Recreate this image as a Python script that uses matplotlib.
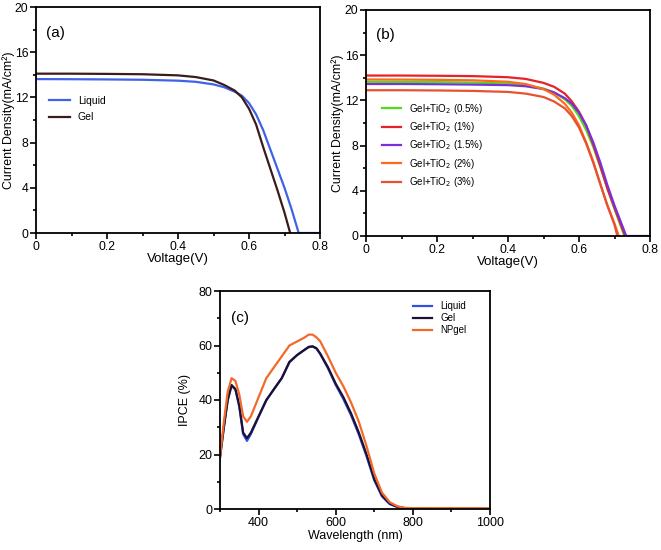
import matplotlib
matplotlib.use("Agg")
import matplotlib.pyplot as plt
from matplotlib.ticker import MultipleLocator

plt.rcParams['font.family'] = ['Liberation Sans', 'DejaVu Sans']

# ---------------- Panel (a) data ----------------
v_liquid = [0, 0.1, 0.2, 0.3, 0.4, 0.45, 0.5, 0.53, 0.56, 0.58, 0.60, 0.62, 0.64, 0.66, 0.68, 0.70, 0.72, 0.74]
j_liquid = [13.62, 13.61, 13.59, 13.56, 13.48, 13.38, 13.15, 12.9, 12.5, 12.15, 11.5, 10.5, 9.1, 7.4, 5.7, 4.0, 2.1, 0.0]
v_gel = [0, 0.1, 0.2, 0.3, 0.4, 0.45, 0.5, 0.53, 0.56, 0.58, 0.60, 0.62, 0.64, 0.66, 0.68, 0.70, 0.716]
j_gel = [14.1, 14.1, 14.08, 14.05, 13.95, 13.8, 13.5, 13.1, 12.6, 12.0, 11.0, 9.6, 7.6, 5.7, 3.8, 1.8, 0.0]

# ---------------- Panel (b) data ----------------
v_b = [0, 0.1, 0.2, 0.3, 0.4, 0.45, 0.5, 0.53, 0.56, 0.58, 0.60, 0.62, 0.64, 0.66, 0.68, 0.70]
j_05 = [13.65, 13.64, 13.62, 13.58, 13.5, 13.35, 13.05, 12.7, 12.1, 11.5, 10.6, 9.4, 7.9, 6.1, 4.2, 2.4]
voc_05 = 0.728
j_1 = [14.2, 14.2, 14.18, 14.15, 14.05, 13.9, 13.55, 13.2, 12.6, 11.9, 11.0, 9.8, 8.1, 6.2, 4.2, 2.5]
voc_1 = 0.730
j_15 = [13.45, 13.45, 13.43, 13.4, 13.35, 13.25, 13.0, 12.7, 12.2, 11.7, 10.9, 9.8, 8.3, 6.5, 4.5, 2.7]
voc_15 = 0.733
j_2 = [13.85, 13.84, 13.82, 13.78, 13.65, 13.45, 13.0, 12.5, 11.7, 10.9, 9.8, 8.3, 6.6, 4.6, 2.7, 1.1]
voc_2 = 0.712
j_3 = [12.9, 12.9, 12.88, 12.84, 12.75, 12.6, 12.3, 11.9, 11.3, 10.6, 9.6, 8.2, 6.5, 4.6, 2.7, 1.0]
voc_3 = 0.708
labels_b = ['Gel+TiO$_2$ (0.5%)', 'Gel+TiO$_2$ (1%)', 'Gel+TiO$_2$ (1.5%)',
            'Gel+TiO$_2$ (2%)', 'Gel+TiO$_2$ (3%)']

# ---------------- Panel (c) data ----------------
wl = [300, 310, 320, 330, 340, 350, 360, 370, 380, 400, 420, 440, 460, 480, 500, 520, 530, 540,
      550, 560, 580, 600, 620, 640, 660, 680, 700, 720, 740, 760, 780, 800, 850, 900, 950, 1000]
ipce_liquid = [19, 30, 40, 45.2, 43.8, 37.5, 27.5, 25.0, 27.5, 33.8, 39.8, 44.0, 48.0, 53.8, 56.5, 58.5, 59.4, 59.6,
               58.9, 56.8, 51.6, 45.5, 40.3, 34.3, 27.3, 19.3, 10.5, 4.6, 1.8, 0.7, 0.2, 0.1, 0.0, 0.0, 0.0, 0.0]
ipce_gel = [19, 30, 40, 45.5, 44, 38, 28, 26, 28, 34, 40, 44, 48, 54, 56.5, 58.5, 59.5, 59.7,
            59, 57, 52, 46, 41, 35, 28, 20, 11, 5, 2, 0.8, 0.3, 0.1, 0.1, 0.1, 0.1, 0.1]
ipce_np = [19, 32, 43, 48, 47, 42, 34, 32, 34, 41, 48, 52, 56, 60, 61.5, 63, 64, 64,
           63, 61.5, 56, 50, 45, 39, 32, 23, 13, 6, 2.5, 1, 0.4, 0.3, 0.3, 0.3, 0.3, 0.2]

fig = plt.figure(figsize=(6.61, 5.5), dpi=100)


def style(ax, fs):
    for s in ax.spines.values():
        s.set_linewidth(1.3)
    ax.tick_params(which='both', direction='out', width=1.2, labelsize=fs, pad=1.5)
    ax.tick_params(which='major', length=4)
    ax.tick_params(which='minor', length=2.5)


fmt_v = plt.FuncFormatter(lambda x, p: '0' if x == 0 else f'{x:.1f}')

# ---- (a)
ax1 = fig.add_axes([36/661, 1-233/550, 284/661, 226/550])
ax1.plot(v_liquid + [0.8], j_liquid + [0.0], color='#3f63e6', lw=1.6, label='Liquid')
ax1.plot(v_gel, j_gel, color='#3b1c1c', lw=1.6, label='Gel')
ax1.set_xlim(0, 0.8)
ax1.set_ylim(0, 20)
ax1.xaxis.set_major_locator(MultipleLocator(0.2))
ax1.xaxis.set_minor_locator(MultipleLocator(0.1))
ax1.yaxis.set_major_locator(MultipleLocator(4))
ax1.yaxis.set_minor_locator(MultipleLocator(2))
ax1.xaxis.set_major_formatter(fmt_v)
style(ax1, 8.8)
ax1.set_xlabel('Voltage(V)', fontsize=9.5, labelpad=0)
ax1.set_ylabel('Current Density(mA/cm²)', fontsize=8.9)
ax1.yaxis.set_label_coords(-0.075, 0.5)
ax1.text(0.035, 0.885, '(a)', transform=ax1.transAxes, fontsize=11, va='center')
ax1.legend(loc='upper left', bbox_to_anchor=(0.03, 0.625), frameon=False, fontsize=7.5,
           handlelength=2.0, handletextpad=0.8, labelspacing=0.6, borderaxespad=0)

# ---- (b)
ax2 = fig.add_axes([366/661, 1-236/550, 284/661, 226/550])
cols_b = ['#4fdc1e', '#e8202c', '#7a30d8', '#ff6a1a', '#e6522e']
js_b = [j_05, j_1, j_15, j_2, j_3]
vocs = [voc_05, voc_1, voc_15, voc_2, voc_3]
for j, voc, c, lab in zip(js_b, vocs, cols_b, labels_b):
    ax2.plot(v_b + [voc], j + [0.0], color=c, lw=1.6, label=lab)
ax2.plot([voc_15, 0.8], [0, 0], color='#7a30d8', lw=1.6)
ax2.set_xlim(0, 0.8)
ax2.set_ylim(0, 20)
ax2.xaxis.set_major_locator(MultipleLocator(0.2))
ax2.xaxis.set_minor_locator(MultipleLocator(0.1))
ax2.yaxis.set_major_locator(MultipleLocator(4))
ax2.yaxis.set_minor_locator(MultipleLocator(2))
ax2.xaxis.set_major_formatter(fmt_v)
style(ax2, 8.8)
ax2.set_xlabel('Voltage(V)', fontsize=9.5, labelpad=0)
ax2.set_ylabel('Current Density(mA/cm²)', fontsize=8.9)
ax2.yaxis.set_label_coords(-0.076, 0.5)
ax2.text(0.035, 0.89, '(b)', transform=ax2.transAxes, fontsize=11, va='center')
ax2.legend(loc='upper left', bbox_to_anchor=(0.042, 0.612), frameon=False, fontsize=7,
           handlelength=2.0, handletextpad=0.8, labelspacing=0.45, borderaxespad=0)

# ---- (c)
ax3 = fig.add_axes([220/661, 1-509/550, 270/661, 218/550])
ax3.plot(wl, ipce_liquid, color='#2f52e0', lw=1.6, label='Liquid')
ax3.plot(wl, ipce_gel, color='#1d1030', lw=1.6, label='Gel')
ax3.plot(wl, ipce_np, color='#f26a2a', lw=1.6, label='NPgel')
ax3.set_xlim(300, 1000)
ax3.set_ylim(0, 80)
ax3.xaxis.set_major_locator(MultipleLocator(200))
ax3.xaxis.set_minor_locator(MultipleLocator(100))
ax3.yaxis.set_major_locator(MultipleLocator(20))
ax3.yaxis.set_minor_locator(MultipleLocator(10))
style(ax3, 9)
ax3.set_xticks([400, 600, 800, 1000])
ax3.set_xlabel('Wavelength (nm)', fontsize=9, labelpad=1)
ax3.set_ylabel('IPCE (%)', fontsize=9)
ax3.yaxis.set_label_coords(-0.108, 0.5)
ax3.text(0.04, 0.875, '(c)', transform=ax3.transAxes, fontsize=11, va='center')
ax3.legend(loc='upper left', bbox_to_anchor=(0.70, 0.97), frameon=False, fontsize=7,
           handlelength=2.0, handletextpad=0.8, labelspacing=0.2, borderaxespad=0)

fig.savefig('out.png', dpi=100)
